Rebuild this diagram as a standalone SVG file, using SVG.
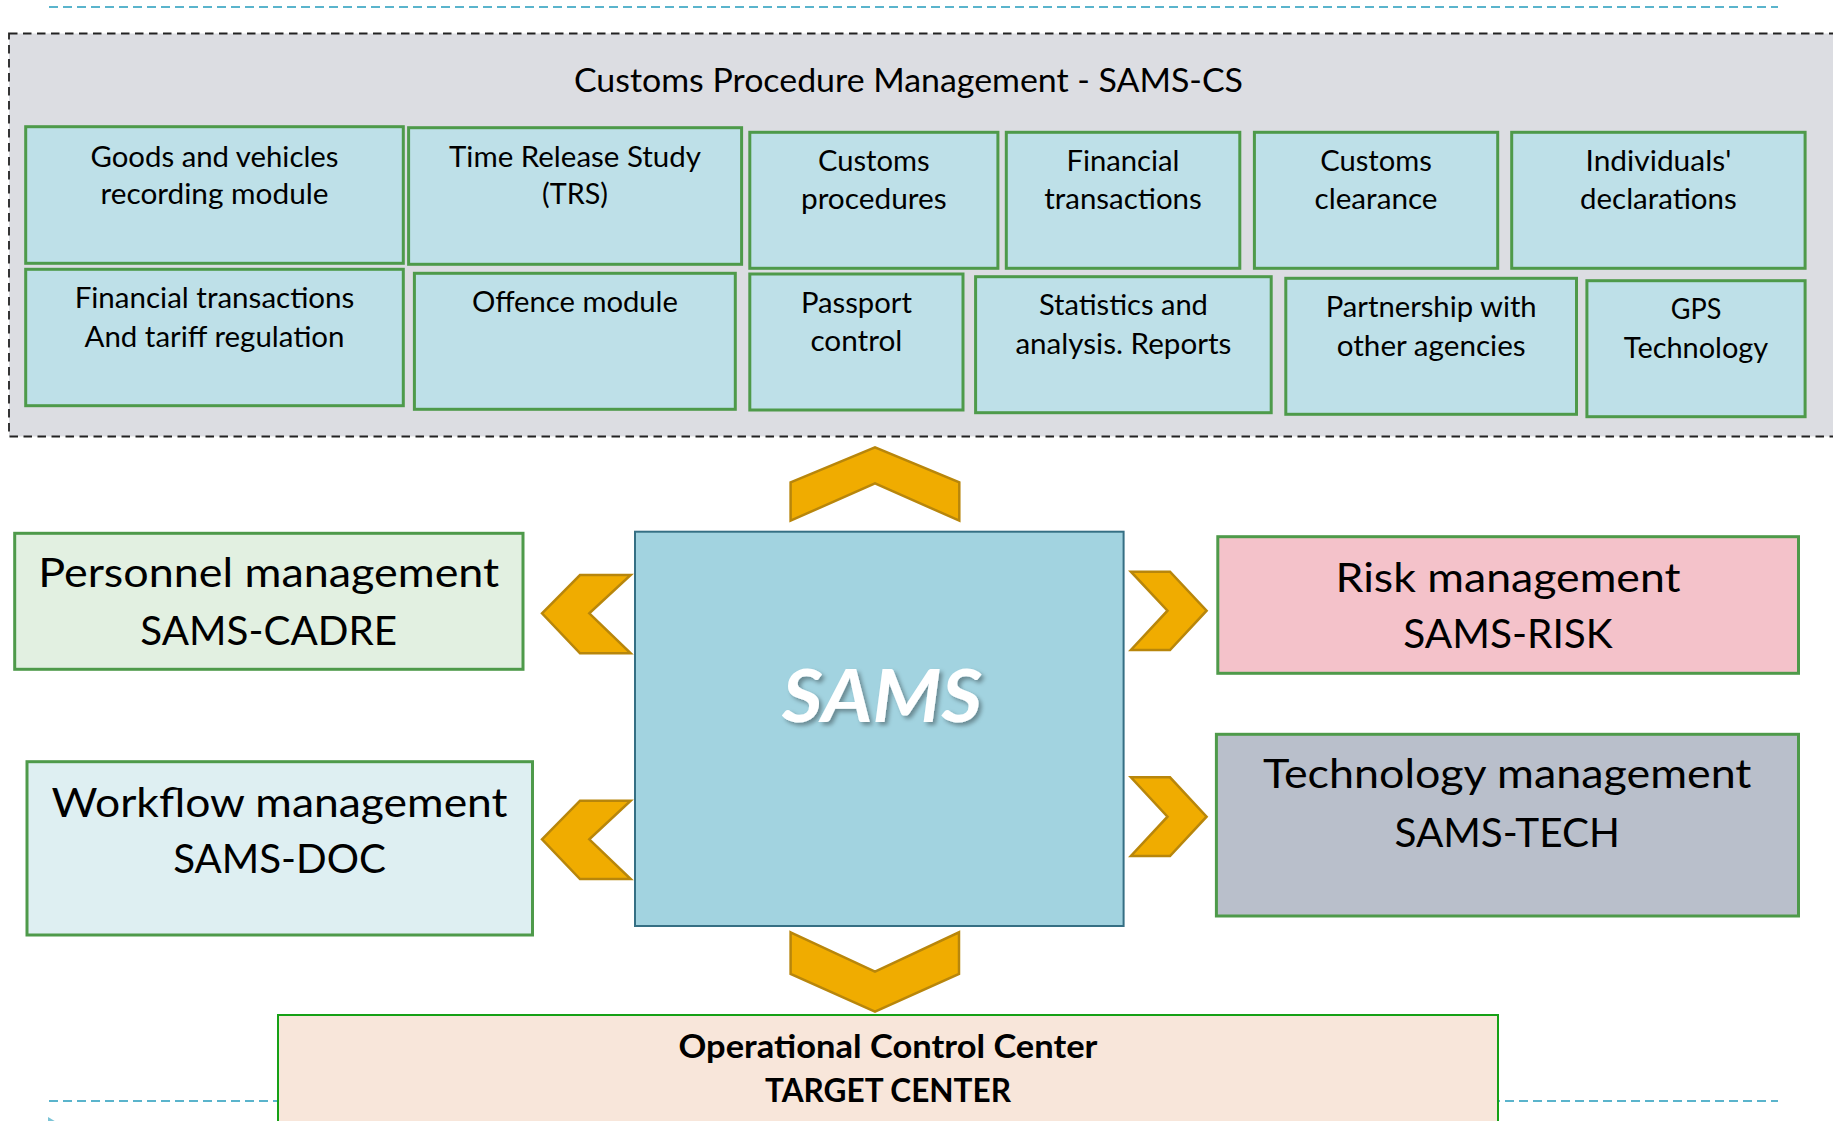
<svg xmlns="http://www.w3.org/2000/svg" width="1833" height="1121" viewBox="0 0 1833 1121">
<defs>
<style>
.t{font-family:Lato,"Open Sans","Liberation Sans",sans-serif;fill:#000;text-anchor:middle}
.s{font-size:28px}
.b{font-size:40px}
.mod{fill:#bee0e8;stroke:#4e9a4a;stroke-width:3}
.big{stroke:#4e9a4a;stroke-width:3}
.chev{fill:#f0ac00;stroke:#b8860b;stroke-width:2.5;stroke-linejoin:miter}
.guide{fill:none;stroke:#5ab4cc;stroke-width:2;stroke-dasharray:9 5}
</style>
<filter id="sh" x="-10%" y="-10%" width="130%" height="140%">
<feDropShadow dx="3" dy="3" stdDeviation="2" flood-color="#000" flood-opacity="0.35"/>
</filter>
</defs>
<rect width="1833" height="1121" fill="#fff"/>
<line class="guide" x1="49" y1="7" x2="1778" y2="7"/>
<line class="guide" x1="49" y1="1101" x2="1778" y2="1101"/>
<polygon points="48,1117 58,1123 48,1129" fill="#7cc4d6"/>

<g id="customs-cs">
<rect x="9" y="33.5" width="1840" height="403" fill="#dcdde2" stroke="#222" stroke-width="1.8" stroke-dasharray="8.5 5.5"/>
<text class="t" x="908.5" y="91.7" font-size="33" textLength="669" lengthAdjust="spacingAndGlyphs">Customs Procedure Management - SAMS-CS</text>
</g>

<g id="goods">
<rect class="mod" x="25.7" y="126.7" width="377.6" height="136.6"/>
<text class="t s" x="214.5" y="166.7" textLength="248" lengthAdjust="spacingAndGlyphs">Goods and vehicles</text>
<text class="t s" x="214.5" y="204" textLength="228" lengthAdjust="spacingAndGlyphs">recording module</text>
</g>
<g id="trs">
<rect class="mod" x="408.6" y="127.7" width="333" height="136.6"/>
<text class="t s" x="575" y="166.7" textLength="252" lengthAdjust="spacingAndGlyphs">Time Release Study</text>
<text class="t s" x="575" y="204" textLength="66" lengthAdjust="spacingAndGlyphs">(TRS)</text>
</g>
<g id="customs-procedures">
<rect class="mod" x="749.8" y="132.3" width="248.1" height="136"/>
<text class="t s" x="873.8" y="170.7" textLength="111.6" lengthAdjust="spacingAndGlyphs">Customs</text>
<text class="t s" x="873.8" y="209.3" textLength="145.7" lengthAdjust="spacingAndGlyphs">procedures</text>
</g>
<g id="financial">
<rect class="mod" x="1006.3" y="132.3" width="233.5" height="136"/>
<text class="t s" x="1123" y="170.7" textLength="113" lengthAdjust="spacingAndGlyphs">Financial</text>
<text class="t s" x="1123" y="209.3" textLength="157.5" lengthAdjust="spacingAndGlyphs">transactions</text>
</g>
<g id="clearance">
<rect class="mod" x="1254.4" y="132.3" width="243.3" height="136"/>
<text class="t s" x="1376" y="170.7" textLength="111.6" lengthAdjust="spacingAndGlyphs">Customs</text>
<text class="t s" x="1376" y="209.3" textLength="123" lengthAdjust="spacingAndGlyphs">clearance</text>
</g>
<g id="individuals">
<rect class="mod" x="1511.7" y="132.3" width="293.4" height="136"/>
<text class="t s" x="1658.4" y="170.7" textLength="145.7" lengthAdjust="spacingAndGlyphs">Individuals'</text>
<text class="t s" x="1658.4" y="209.3" textLength="156.8" lengthAdjust="spacingAndGlyphs">declarations</text>
</g>

<g id="tariff">
<rect class="mod" x="25.7" y="269.3" width="377.6" height="136.4"/>
<text class="t s" x="214.5" y="308.3" textLength="279.7" lengthAdjust="spacingAndGlyphs">Financial transactions</text>
<text class="t s" x="214.5" y="346.7" textLength="260" lengthAdjust="spacingAndGlyphs">And tariff regulation</text>
</g>
<g id="offence">
<rect class="mod" x="414.4" y="273.3" width="320.9" height="136"/>
<text class="t s" x="574.9" y="311.7" textLength="206" lengthAdjust="spacingAndGlyphs">Offence module</text>
</g>
<g id="passport">
<rect class="mod" x="749.8" y="274" width="213.2" height="136"/>
<text class="t s" x="856.4" y="313.3" textLength="111" lengthAdjust="spacingAndGlyphs">Passport</text>
<text class="t s" x="856.4" y="351" textLength="92" lengthAdjust="spacingAndGlyphs">control</text>
</g>
<g id="statistics">
<rect class="mod" x="975.6" y="276.7" width="295.6" height="136"/>
<text class="t s" x="1123.4" y="315" textLength="169" lengthAdjust="spacingAndGlyphs">Statistics and</text>
<text class="t s" x="1123.4" y="354" textLength="216" lengthAdjust="spacingAndGlyphs">analysis. Reports</text>
</g>
<g id="partnership">
<rect class="mod" x="1285.8" y="278.3" width="290.7" height="136"/>
<text class="t s" x="1431.2" y="316.7" textLength="211" lengthAdjust="spacingAndGlyphs">Partnership with</text>
<text class="t s" x="1431.2" y="356" textLength="189" lengthAdjust="spacingAndGlyphs">other agencies</text>
</g>
<g id="gps">
<rect class="mod" x="1586.9" y="280.7" width="218.2" height="136"/>
<text class="t s" x="1696" y="319.3" textLength="50.6" lengthAdjust="spacingAndGlyphs">GPS</text>
<text class="t s" x="1696" y="357.7" textLength="144.3" lengthAdjust="spacingAndGlyphs">Technology</text>
</g>

<g id="personnel">
<rect class="big" x="14.7" y="533.3" width="508.3" height="136" fill="#e2f0e1"/>
<text class="t b" x="268.7" y="586.7" textLength="461" lengthAdjust="spacingAndGlyphs">Personnel management</text>
<text class="t b" x="268.7" y="645" textLength="256.7" lengthAdjust="spacingAndGlyphs">SAMS-CADRE</text>
</g>
<g id="workflow">
<rect class="big" x="27" y="761.7" width="505.5" height="173.3" fill="#deeff2"/>
<text class="t b" x="279.5" y="816.7" textLength="456" lengthAdjust="spacingAndGlyphs">Workflow management</text>
<text class="t b" x="279.5" y="873.3" textLength="212.7" lengthAdjust="spacingAndGlyphs">SAMS-DOC</text>
</g>
<g id="sams">
<rect x="635" y="531.7" width="488.6" height="394.3" fill="#a2d3e0" stroke="#356f84" stroke-width="2"/>
<text x="882" y="722" font-family="Lato,'Open Sans','Liberation Sans',sans-serif" font-size="72" font-weight="bold" font-style="italic" fill="#fff" text-anchor="middle" textLength="200" lengthAdjust="spacingAndGlyphs" filter="url(#sh)">SAMS</text>
</g>
<g id="risk">
<rect class="big" x="1217.8" y="536.7" width="580.7" height="136.6" fill="#f4c2ca"/>
<text class="t b" x="1508" y="591.7" textLength="345" lengthAdjust="spacingAndGlyphs">Risk management</text>
<text class="t b" x="1508" y="648.3" textLength="209.4" lengthAdjust="spacingAndGlyphs">SAMS-RISK</text>
</g>
<g id="tech">
<rect class="big" x="1216.4" y="734.3" width="582.1" height="181.7" fill="#b9bfcb"/>
<text class="t b" x="1507.2" y="788.3" textLength="488.5" lengthAdjust="spacingAndGlyphs">Technology management</text>
<text class="t b" x="1507.2" y="846.7" textLength="225.4" lengthAdjust="spacingAndGlyphs">SAMS-TECH</text>
</g>
<g id="target">
<rect x="278" y="1015" width="1220" height="130" fill="#f8e6da" stroke="#16a016" stroke-width="2"/>
<text class="t" x="888" y="1058.3" font-size="33" font-weight="bold" textLength="419" lengthAdjust="spacingAndGlyphs">Operational Control Center</text>
<text class="t" x="888" y="1101.7" font-size="33" font-weight="bold" textLength="246" lengthAdjust="spacingAndGlyphs">TARGET CENTER</text>
</g>

<g id="connectors">
<polygon class="chev" points="790.6,482.3 875,447.3 959.3,482.3 959.3,520.7 875,483.3 790.6,520.7"/>
<polygon class="chev" points="790.6,932.3 875,971.7 959,932.3 959,974 875,1011.7 790.6,974"/>
<polygon class="chev" points="542,613.3 580,575 630.7,575 589.3,613.3 630.7,653.3 580,653.3"/>
<polygon class="chev" points="542,839.3 580,800.7 630.7,800.7 589.3,839.3 630.7,879 580,879"/>
<polygon class="chev" points="1130.9,571.7 1170,571.7 1206.6,610.7 1170,650 1130.9,650 1167.5,610.7"/>
<polygon class="chev" points="1130.9,777.3 1170,777.3 1206.6,816.7 1170,856 1130.9,856 1167.5,816.7"/>
</g>
</svg>
